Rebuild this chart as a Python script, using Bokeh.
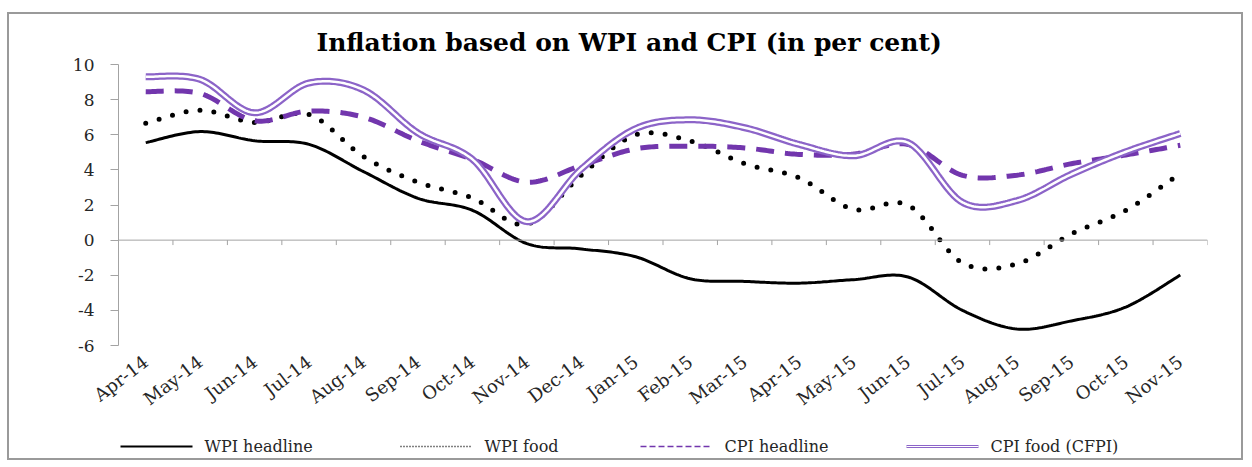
import numpy as np
from bokeh.plotting import figure
from bokeh.layouts import column
from bokeh.models import Range1d, FixedTicker, Span
from bokeh.core.properties import value
from bokeh.embed import file_html
from bokeh.resources import INLINE

# ---- data (per cent, year-on-year) ----
months = ["Apr-14", "May-14", "Jun-14", "Jul-14", "Aug-14", "Sep-14", "Oct-14",
          "Nov-14", "Dec-14", "Jan-15", "Feb-15", "Mar-15", "Apr-15", "May-15",
          "Jun-15", "Jul-15", "Aug-15", "Sep-15", "Oct-15", "Nov-15"]
wpi_headline = [5.55, 6.18, 5.66, 5.45, 3.9, 2.38, 1.7, -0.2, -0.5, -0.95,
                -2.2, -2.35, -2.45, -2.25, -2.1, -4.0, -5.06, -4.6, -3.81, -1.99]
wpi_food = [6.65, 7.4, 6.7, 7.15, 4.75, 3.3, 2.4, 0.9, 3.7, 6.0,
            5.65, 4.35, 3.55, 1.75, 2.0, -1.3, -1.35, 0.35, 1.7, 3.8]
cpi_headline = [8.45, 8.35, 6.8, 7.35, 7.0, 5.65, 4.6, 3.3, 4.25, 5.2,
                5.35, 5.25, 4.88, 4.9, 5.45, 3.69, 3.7, 4.35, 4.85, 5.4]
cpi_food = [9.3, 9.15, 7.25, 8.95, 8.55, 6.1, 4.6, 1.05, 4.05, 6.35,
            6.85, 6.4, 5.45, 4.8, 5.55, 2.15, 2.25, 3.75, 5.03, 6.07]
series_names = ["WPI headline", "WPI food", "CPI headline", "CPI food (CFPI)"]
y_ticks = [-6, -4, -2, 0, 2, 4, 6, 8, 10]

SERIF = "DejaVu Serif"
AXIS_GREY = "#a3a3a3"
TEXT = "#262626"
PURPLE_DASH = "#7236ad"
PURPLE_FOOD = "#8c64c8"
W = 1236
BORDER_L, BORDER_R = 111, 36


def smooth(xv, yv, steps=24):
    """Cubic Bezier smoothing (Catmull-Rom control points) through every point."""
    x = np.asarray(xv, float)
    y = np.asarray(yv, float)
    n = len(x)
    xs, ys = [x[0]], [y[0]]
    t = np.linspace(0, 1, steps + 1)[1:]
    for i in range(n - 1):
        i0, i3 = max(i - 1, 0), min(i + 2, n - 1)
        c1x = x[i] + (x[i + 1] - x[i0]) / 6
        c1y = y[i] + (y[i + 1] - y[i0]) / 6
        c2x = x[i + 1] - (x[i3] - x[i]) / 6
        c2y = y[i + 1] - (y[i3] - y[i]) / 6
        b0, b1, b2, b3 = (1 - t) ** 3, 3 * (1 - t) ** 2 * t, 3 * (1 - t) * t ** 2, t ** 3
        xs.extend(b0 * x[i] + b1 * c1x + b2 * c2x + b3 * x[i + 1])
        ys.extend(b0 * y[i] + b1 * c1y + b2 * c2y + b3 * y[i + 1])
    return np.array(xs), np.array(ys)


n = len(months)
xc = np.arange(n) + 0.5          # category centres
bounds = np.arange(1, n + 1)     # category boundaries (tick marks on the zero line)

p = figure(width=W, height=408,
           x_range=Range1d(0, n), y_range=Range1d(y_ticks[0], y_ticks[-1]),
           output_backend="svg", toolbar_location=None,
           min_border_left=BORDER_L, min_border_right=BORDER_R,
           min_border_top=52, min_border_bottom=72)
p.border_fill_color = None
p.background_fill_color = "white"
p.outline_line_color = None
p.xgrid.visible = False
p.ygrid.visible = False

# title
p.title.text = "Inflation based on WPI and CPI (in per cent)"
p.title.text_font = SERIF
p.title.text_font_style = "bold"
p.title.text_font_size = "25px"
p.title.text_color = "black"
p.title.align = "left"
p.title.offset = 198
p.title.standoff = 15

# x axis: month labels at category centres
p.xaxis.ticker = FixedTicker(ticks=list(xc))
p.xaxis.major_label_overrides = {float(x): m for x, m in zip(xc, months)}
p.xaxis.axis_line_color = None
p.xaxis.major_tick_line_color = None
p.xaxis.minor_tick_line_color = None
p.xaxis.major_label_orientation = 0.65
p.xaxis.major_label_standoff = 8
p.xaxis.major_label_text_font = SERIF
p.xaxis.major_label_text_font_size = "18px"
p.xaxis.major_label_text_color = TEXT

# y axis
p.yaxis.ticker = FixedTicker(ticks=y_ticks)
p.yaxis.major_label_overrides = {v: str(v) for v in y_ticks}
p.yaxis.axis_line_color = AXIS_GREY
p.yaxis.major_tick_line_color = AXIS_GREY
p.yaxis.major_tick_out = 8
p.yaxis.major_tick_in = 0
p.yaxis.minor_tick_line_color = None
p.yaxis.major_label_standoff = 16
p.yaxis.major_label_text_font = SERIF
p.yaxis.major_label_text_font_size = "17px"
p.yaxis.major_label_text_color = TEXT

# zero line with category tick marks
p.add_layout(Span(location=0, dimension="width", line_color=AXIS_GREY, line_width=1))
tick_len = (y_ticks[-1] - y_ticks[0]) / 284 * 5
p.segment(x0=bounds, y0=0, x1=bounds, y1=-tick_len, line_color=AXIS_GREY, line_width=1)

# series
sx, sy = smooth(xc, wpi_headline)
p.line(sx, sy, line_color="black", line_width=3)

sx, sy = smooth(xc, wpi_food)
p.line(sx, sy, line_color="black", line_width=5, line_dash="0 14", line_cap="round")

sx, sy = smooth(xc, cpi_headline)
p.line(sx, sy, line_color=PURPLE_DASH, line_width=5, line_dash="18 11")

sx, sy = smooth(xc, cpi_food)
p.line(sx, sy, line_color=PURPLE_FOOD, line_width=7)
p.line(sx, sy, line_color="white", line_width=2.5)

# ---- legend strip; its frame lines up with the chart frame, so the
# x range is expressed in pixels from the left edge of the whole chart ----
LH = 40
lg = figure(width=W, height=LH, x_range=Range1d(BORDER_L, W - BORDER_R),
            y_range=Range1d(0, LH),
            output_backend="svg", toolbar_location=None,
            x_axis_type=None, y_axis_type=None,
            min_border_left=BORDER_L, min_border_right=BORDER_R,
            min_border_top=0, min_border_bottom=0)
lg.border_fill_color = None
lg.background_fill_color = None
lg.outline_line_color = None
lg.xgrid.visible = False
lg.ygrid.visible = False

sw_start = [113, 393, 633, 899]   # swatch left edges
sw_len = 72
ly = 14
lg.line([sw_start[0], sw_start[0] + sw_len], [ly, ly], line_color="black", line_width=2)
lg.line([sw_start[1], sw_start[1] + sw_len], [ly, ly], line_color="black",
        line_width=1.5, line_dash="1 2")
lg.line([sw_start[2], sw_start[2] + sw_len], [ly, ly], line_color=PURPLE_DASH,
        line_width=1.5, line_dash="6 3")
lg.line([sw_start[3], sw_start[3] + sw_len], [ly, ly], line_color=PURPLE_FOOD, line_width=3)
lg.line([sw_start[3], sw_start[3] + sw_len], [ly, ly], line_color="white", line_width=1)
lg.text(x=[s + sw_len + 12 for s in sw_start], y=[ly] * 4, text=series_names,
        text_font=value(SERIF), text_font_size="16px", text_color=TEXT,
        text_baseline="middle", text_align="left")

layout = column(p, lg, spacing=0)
layout.margin = (12, 9, 7, 7)
layout.styles = {"box-shadow": "inset 0 0 0 2px #9a9a9a"}

open("out.html", "w").write(file_html(layout, INLINE))
